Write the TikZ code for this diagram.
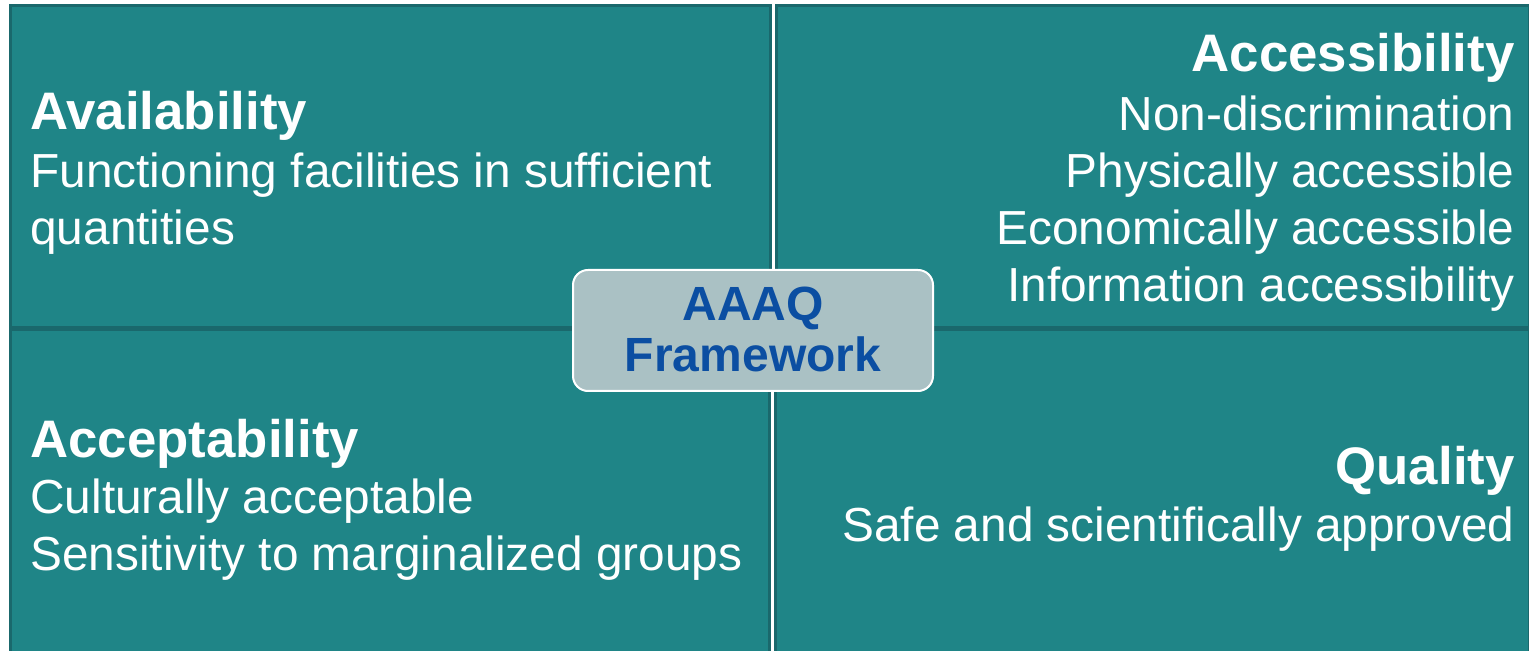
\documentclass[tikz,border=0pt]{standalone}
\usepackage{fontspec}
\setmainfont{Liberation Sans}
\definecolor{tealfill}{RGB}{31,133,135}
\definecolor{tealedge}{RGB}{26,104,108}
\definecolor{boxfill}{RGB}{170,193,196}
\definecolor{boxtext}{RGB}{11,78,162}
\begin{document}
\begin{tikzpicture}[x=0.5pt, y=-0.5pt,
  quad/.style = {shape=rectangle, draw=tealedge, line width=1.5pt,
    fill=tealfill, inner sep=0pt},
  head/.style = {text=white, inner sep=0pt, font=\fontsize{26.4}{30}\selectfont\bfseries},
  body/.style = {text=white, inner sep=0pt, font=\fontsize{23.9}{28}\selectfont},
  center/.style = {shape=rectangle, rounded corners=7.5pt, draw=white,
    line width=1pt, fill=boxfill, minimum width=180pt, minimum height=60.5pt},
  ctext/.style = {text=boxtext, inner sep=0pt, font=\fontsize{24}{28}\selectfont\bfseries}
  ]
  \useasboundingbox[fill=white] (0,0) rectangle (1529,651);
  % quadrants
  \node[quad, minimum width=380pt, minimum height=161pt] (avail) at (390.5,166.5) {};
  \node[quad, minimum width=376.5pt, minimum height=161pt] (access) at (1153,166.5) {};
  \node[quad, minimum width=379.5pt, minimum height=163pt] (accept) at (390,493) {};
  \node[quad, minimum width=377pt, minimum height=163pt] (quality) at (1152.5,493) {};
  % Availability
  \node[head, anchor=base west] (availh) at (30,130) {Availability};
  \node[body, anchor=base west] (avail1) at (30,188) {Functioning facilities in sufficient};
  \node[body, anchor=base west] (avail2) at (30,245) {quantities};
  % Accessibility
  \node[head, anchor=base east] (accessh) at (1515,72) {Accessibility};
  \node[body, anchor=base east] (access1) at (1515,131) {Non-discrimination};
  \node[body, anchor=base east] (access2) at (1515,188) {Physically accessible};
  \node[body, anchor=base east] (access3) at (1515,245) {Economically accessible};
  \node[body, anchor=base east] (access4) at (1515,302) {Information accessibility};
  % Acceptability
  \node[head, anchor=base west] (accepth) at (30,458) {Acceptability};
  \node[body, anchor=base west] (accept1) at (30,513) {Culturally acceptable};
  \node[body, anchor=base west] (accept2) at (30,570) {Sensitivity to marginalized groups};
  % Quality
  \node[head, anchor=base east] (qualityh) at (1515,484) {Quality};
  \node[body, anchor=base east] (quality1) at (1515,541) {Safe and scientifically approved};
  % centre
  \node[center] (aaaq) at (753,330.5) {};
  \node[ctext, anchor=base] (aaaq1) at (753,321) {AAAQ};
  \node[ctext, anchor=base] (aaaq2) at (753,372) {Framework};
\end{tikzpicture}
\end{document}
